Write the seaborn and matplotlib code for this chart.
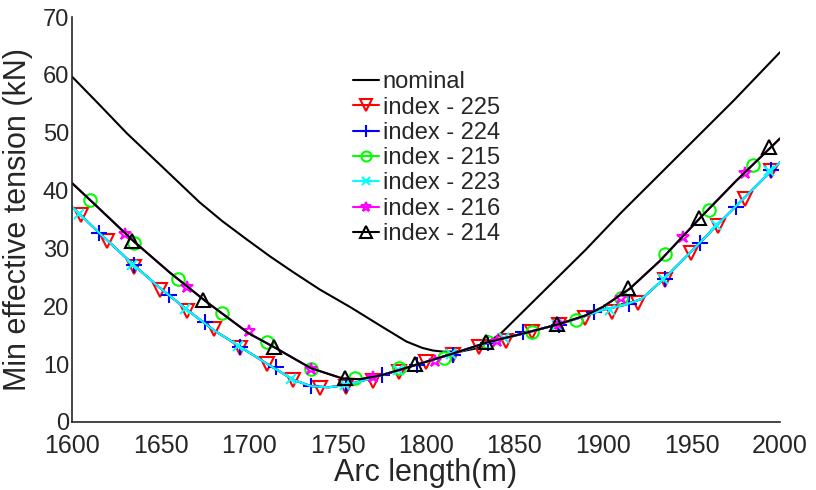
import matplotlib
matplotlib.use("Agg")
import matplotlib.pyplot as plt
from matplotlib.lines import Line2D
import seaborn as sns

# === Settings ===
sns.set_style("white")
plt.rcParams['font.family'] = ['Liberation Sans', 'DejaVu Sans']
ink = '#262626'

# === Curves ===
nominal_x = [1600, 1615, 1631, 1650, 1672, 1685, 1699, 1712, 1725, 1740, 1757, 1775, 1789,
             1798, 1804, 1810, 1820, 1828, 1834, 1842, 1890, 1910, 1974, 2000]
nominal_y = [59.7, 55.0, 49.9, 44.4, 38.0, 34.7, 31.5, 28.6, 25.9, 22.9, 19.9, 16.5, 13.9,
             12.8, 12.35, 12.15, 12.2, 12.7, 13.6, 15.2, 29.7, 36.1, 55.6, 63.9]

# line shared by index 225 / 224 / 223
lower_x = [1600, 1615, 1635, 1650, 1665, 1680, 1695, 1710, 1725, 1735, 1745, 1755, 1765,
           1775, 1785, 1800, 1815, 1835, 1855, 1875, 1890, 1900, 1912, 1922, 1935, 1950,
           1965, 1980, 2000]
lower_y = [37.2, 32.8, 27.1, 23.1, 19.4, 15.9, 13.0, 10.1, 7.3, 6.2, 6.0, 6.4, 7.2,
           8.1, 9.0, 10.4, 11.8, 13.7, 15.3, 16.9, 18.3, 19.4, 20.2, 21.3, 24.9, 29.5,
           34.2, 38.8, 44.9]

# line shared by index 215 / 216 / 214
upper_x = [1600, 1615, 1635, 1655, 1675, 1700, 1715, 1735, 1753, 1763, 1775, 1785, 1800,
           1815, 1835, 1855, 1875, 1890, 1900, 1915, 1932, 1955, 1975, 2000]
upper_y = [41.3, 37.0, 31.2, 25.9, 21.0, 15.3, 12.8, 9.3, 7.5, 7.4, 8.1, 9.0, 10.4,
           11.8, 13.8, 15.3, 16.9, 18.4, 19.9, 23.0, 27.8, 35.3, 41.6, 49.0]

# === Marker positions of each series ===
i225_x = [1605, 1620, 1635, 1650, 1665, 1680, 1695, 1710, 1725, 1740, 1755, 1770, 1785, 1800,
          1815, 1830, 1845, 1860, 1875, 1890, 1905, 1920, 1935, 1950, 1965, 1980, 1995]
i225_y = [35.8, 31.2, 26.8, 22.9, 19.2, 16.0, 12.8, 10.0, 7.3, 5.8, 6.0, 7.0, 8.7, 10.3,
          11.6, 13.0, 14.0, 15.6, 16.8, 17.9, 19.0, 20.5, 24.6, 29.2, 33.8, 38.5, 43.3]

i224_x = [1615, 1635, 1655, 1675, 1695, 1715, 1735, 1755, 1775, 1795, 1815, 1835, 1855, 1875,
          1895, 1915, 1935, 1955, 1975, 1995]
i224_y = [32.7, 27.1, 21.9, 17.2, 13.0, 9.5, 6.2, 6.4, 8.2, 9.9, 11.6, 13.7, 15.5, 16.8,
          19.0, 20.4, 24.8, 30.9, 37.2, 43.6]

i215_x = [1610, 1635, 1660, 1685, 1710, 1735, 1760, 1785, 1810, 1835, 1860, 1885, 1910,
          1935, 1960, 1985]
i215_y = [38.3, 31.0, 24.7, 18.8, 13.9, 9.2, 7.6, 9.3, 11.1, 13.8, 15.6, 17.6, 21.4,
          29.0, 36.6, 44.4]

i223_x = [1604, 1634, 1664, 1694, 1724, 1754, 1784, 1814, 1844, 1874, 1904, 1934, 1964, 1994]
i223_y = [36.0, 27.1, 19.5, 13.1, 7.4, 6.4, 9.0, 11.8, 14.5, 16.8, 19.4, 24.8, 34.0, 43.3]

i216_x = [1630, 1665, 1700, 1735, 1770, 1805, 1840, 1875, 1910, 1945, 1980]
i216_y = [32.5, 23.4, 15.7, 9.2, 7.8, 10.6, 14.0, 17.0, 21.4, 32.0, 43.0]

i214_x = [1634, 1674, 1714, 1754, 1794, 1834, 1874, 1914, 1954, 1994]
i214_y = [31.2, 21.1, 13.0, 7.6, 10.0, 13.9, 17.0, 23.1, 35.3, 47.5]

series = [
    ('index - 225', lower_x, lower_y, i225_x, i225_y, '#FF0000', 'v', 10),
    ('index - 224', lower_x, lower_y, i224_x, i224_y, '#0000FF', '+', 11),
    ('index - 215', upper_x, upper_y, i215_x, i215_y, '#00FF00', 'o', 9),
    ('index - 223', lower_x, lower_y, i223_x, i223_y, '#00FFFF', 'x', 7),
    ('index - 216', upper_x, upper_y, i216_x, i216_y, '#FF00FF', '*', 9),
    ('index - 214', upper_x, upper_y, i214_x, i214_y, '#000000', '^', 10),
]

# === Plot ===
fig = plt.figure(figsize=(8.16, 4.9), dpi=100)
ax = fig.add_axes([0.0882, 0.1388, 0.8676, 0.8265])

lw = 1.5
sns.lineplot(x=nominal_x, y=nominal_y, color='black', linewidth=lw, ax=ax)
handles = [Line2D([], [], color='black', linewidth=lw)]
labels = ['nominal']

for label, lx, ly, mx, my, color, marker, ms in series:
    sns.lineplot(x=lx, y=ly, color=color, linewidth=lw, ax=ax)
    ax.plot(mx, my, linestyle='none', marker=marker, markersize=ms,
            markerfacecolor='none', markeredgecolor=color, markeredgewidth=1.5)
    handles.append(Line2D([], [], color=color, linewidth=lw, marker=marker,
                          markersize=ms * 0.8, markerfacecolor='none',
                          markeredgecolor=color, markeredgewidth=1.5))
    labels.append(label)

ax.set_xlim(1600, 2000)
ax.set_ylim(0, 70)
ax.set_xticks(range(1600, 2001, 50))
ax.set_yticks(range(0, 71, 10))
ax.tick_params(direction='in', length=5, width=1, colors=ink)
ax.tick_params(axis='x', pad=9, labelsize=18)
ax.tick_params(axis='y', pad=2, labelsize=17)
for side in ['top', 'right']:
    ax.spines[side].set_visible(False)
for side in ['left', 'bottom']:
    ax.spines[side].set_color(ink)
    ax.spines[side].set_linewidth(1.2)

ax.set_xlabel('Arc length(m)', fontsize=22, color=ink, labelpad=0)
ax.set_ylabel('Min effective tension (kN)', fontsize=22, color=ink, labelpad=7)

ax.legend(handles, labels, loc='upper left', bbox_to_anchor=(0.397, 0.866),
          frameon=False, fontsize=17, labelspacing=0.14, handlelength=1.1,
          handletextpad=0.15, borderpad=0, borderaxespad=0)

fig.savefig('out.png', dpi=100)
plt.close(fig)
